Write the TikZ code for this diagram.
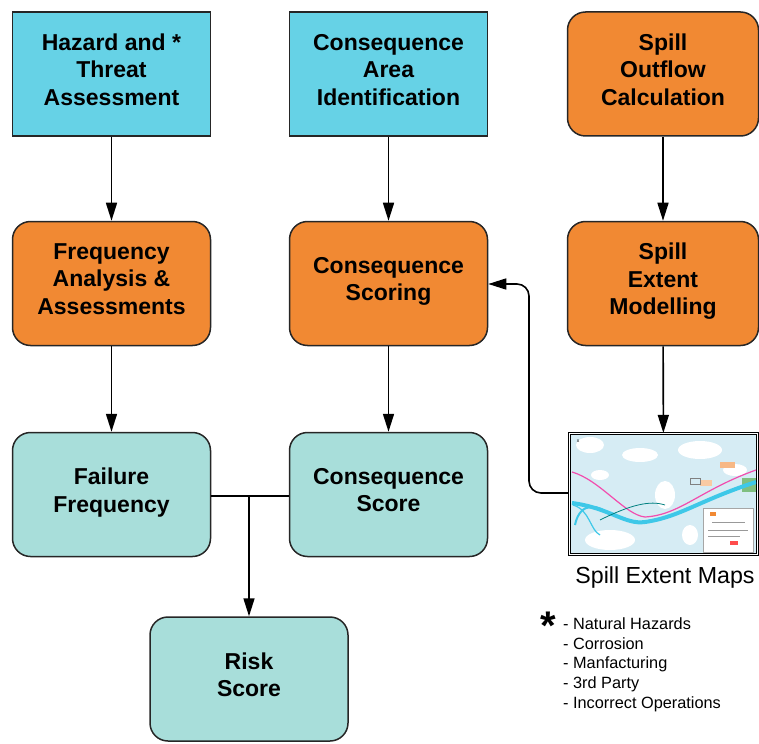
\documentclass[tikz,border=0pt]{standalone}
\usepackage{fontspec}
\setmainfont{Liberation Sans}
\usetikzlibrary{arrows.meta}
\definecolor{boxcyan}{RGB}{102,210,230}
\definecolor{boxorange}{RGB}{241,137,51}
\definecolor{boxteal}{RGB}{168,222,218}
\definecolor{mapbg}{RGB}{214,236,244}
\definecolor{river}{RGB}{62,200,232}
\newcommand{\boxstrut}{\rule[-9pt]{0pt}{9pt}}
\tikzset{
  box/.style={draw=black!85, line width=1.5pt, minimum width=198pt, minimum height=124pt,
    align=center, inner sep=2pt, font=\fontsize{23}{27.5}\selectfont\bfseries},
  cyanbox/.style={box, fill=boxcyan},
  orangebox/.style={box, fill=boxorange, rounded corners=18pt},
  tealbox/.style={box, fill=boxteal, rounded corners=18pt},
  arr/.style={line width=1.6pt, -{Triangle[length=18pt,width=11pt]}},
  note/.style={anchor=west, inner sep=0pt, font=\fontsize{16.3}{18}\selectfont}
}
\begin{document}
\begin{tikzpicture}[x=1pt,y=-1pt]
\useasboundingbox (0,0) rectangle (759,743);
\node[cyanbox] (haz) at (111.5,74) {Hazard and *\\Threat\\Assessment\boxstrut};
\node[cyanbox] (cai) at (388.5,74) {Consequence\\Area\\Identification\boxstrut};
\node[orangebox, minimum width=191pt] (sout) at (663,74) {Spill\\Outflow\\Calculation\boxstrut};
\node[orangebox] (freq) at (111.5,283.5) {Frequency\\Analysis \&\\Assessments\boxstrut};
\node[orangebox] (cscor) at (388.5,283.5) {Consequence\\Scoring\boxstrut};
\node[orangebox, minimum width=191pt] (smod) at (663,283.5) {Spill\\Extent\\Modelling\boxstrut};
\node[tealbox] (ffreq) at (111.5,494.5) {Failure\\Frequency\boxstrut};
\node[tealbox] (cscore) at (388.5,494.5) {Consequence\\Score\boxstrut};
\node[tealbox] (risk) at (249,679) {Risk\\Score\boxstrut};
\node[draw, double, double distance=1.2pt, line width=1.2pt, minimum width=188pt,
  minimum height=121pt, inner sep=0pt] (map) at (663.5,494) {};
\node[font=\fontsize{23.2}{26}\selectfont] (maplbl) at (665,577) {Spill Extent Maps};
% map picture
\begin{scope}
\clip (571,435) rectangle (756,553);
\fill[mapbg] (571,435) rectangle (756,553);
\fill[white] (590,445) ellipse (14 and 8);
\fill[white] (640,455) ellipse (18 and 7);
\fill[white] (700,450) ellipse (22 and 9);
\fill[white] (610,540) ellipse (25 and 10);
\fill[white] (665,495) ellipse (10 and 14);
\fill[white] (735,470) ellipse (12 and 6);
\fill[white] (600,475) ellipse (9 and 5);
\fill[white] (690,535) ellipse (8 and 10);
\fill[boxorange!60] (720,462) rectangle (735,468);
\fill[boxorange!45] (700,480) rectangle (712,486);
\fill[green!50!black!50] (742,478) rectangle (756,492);
\draw[river, line width=2pt] (575,525) .. controls (580,500) and (600,505) .. (610,515);
\draw[river, line width=1.2pt] (573,505) .. controls (590,510) and (590,530) .. (600,535);
\draw[river, line width=4pt] (572,503) .. controls (610,508) and (625,525) .. (645,522)
  .. controls (680,517) and (700,500) .. (756,482);
\draw[magenta!70, line width=1.2pt] (572,472) .. controls (600,480) and (625,515) .. (645,517)
  .. controls (680,515) and (700,490) .. (756,470);
\draw[teal, line width=0.8pt] (600,520) .. controls (630,505) and (650,500) .. (665,505);
\draw[gray] (690,478) rectangle (700,484);
\fill[white, draw=gray!70] (703,508) rectangle (753,552);
\fill[boxorange] (710,512) rectangle (716,516);
\draw[gray!80] (712,522) -- (745,522);
\draw[gray!80] (708,530) -- (748,530);
\draw[gray!80] (708,536) -- (740,536);
\fill[red!70] (730,541) rectangle (738,545);
\node[font=\fontsize{5}{5}\selectfont, inner sep=0pt] (mx) at (578,441) {x};
\end{scope}
% footnote
\node[anchor=center, font=\fontsize{40}{40}\selectfont\bfseries, inner sep=0pt] (star) at (548,626) {*};
\node[note] (n1) at (563,624) {- Natural Hazards};
\node[note] (n2) at (563,644) {- Corrosion};
\node[note] (n3) at (563,664) {- Manfacturing};
\node[note] (n4) at (563,684) {- 3rd Party};
\node[note] (n5) at (563,704) {- Incorrect Operations};
% connectors
\draw[arr] (haz) -- (freq);
\draw[arr] (cai) -- (cscor);
\draw[arr] (sout) -- (smod);
\draw[arr] (freq) -- (ffreq);
\draw[arr] (cscor) -- (cscore);
\draw[arr] (smod) -- (map);
\coordinate (jn) at (249,496);
\draw[line width=1.5pt] (ffreq.east |- jn) -- (cscore.west |- jn);
\draw[arr] (jn) -- (risk);
\coordinate (bend) at (529,493);
\draw[arr, rounded corners=12pt] (map.west |- bend) -- (bend) -- (529,284) -- (cscor.east |- 0,284);
\end{tikzpicture}
\end{document}
